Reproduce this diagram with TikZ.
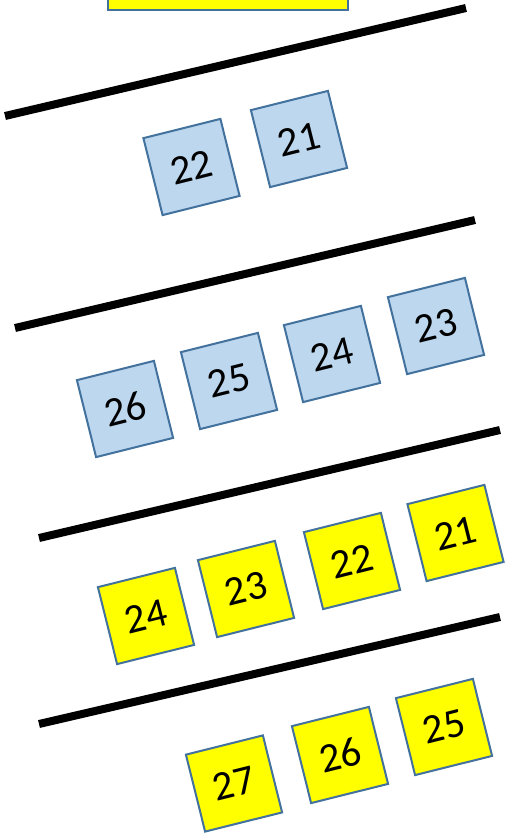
\documentclass[tikz,border=0pt]{standalone}
\usepackage{fontspec}
\setmainfont{Carlito}
\usepackage{xcolor}
\usepackage{tikz}
\usetikzlibrary{positioning}
\definecolor{edgeblue}{RGB}{65, 113, 156}
\definecolor{paleblue}{RGB}{189, 215, 238}
\definecolor{brightyellow}{RGB}{255, 255, 0}
\tikzstyle{tile} = [rectangle, draw=edgeblue, line width=1.5pt, minimum size=59.5pt, inner sep=0pt, rotate=14, text centered, font=\fontsize{31}{31}\selectfont]
\tikzstyle{bluetile} = [tile, fill=paleblue]
\tikzstyle{yellowtile} = [tile, fill=brightyellow]
\tikzstyle{divider} = [line width=6pt, black]

\begin{document}
\begin{tikzpicture}[x=0.75pt, y=-0.75pt]
    \useasboundingbox (0,0) rectangle (505,833);
    \clip (0,0) rectangle (505,833);

    % Top box, cut by the page edge
    \node[draw=edgeblue, line width=1.5pt, fill=brightyellow, minimum width=180pt, minimum height=45pt] (topbox) at (228,-20) {};

    % Dividers
    \draw[divider] (5,116) -- (466,8);
    \draw[divider] (15,328) -- (475,220);
    \draw[divider] (39,538) -- (500,430);
    \draw[divider] (39,724) -- (500,617);

    % First row
    \node[bluetile] (blueA22) at (191.5,167) {22};
    \node[bluetile] (blueA21) at (299,139) {21};

    % Second row
    \node[bluetile] (blueB26) at (125,409) {26};
    \node[bluetile] (blueB25) at (229,381) {25};
    \node[bluetile] (blueB24) at (332,354) {24};
    \node[bluetile] (blueB23) at (436,326) {23};

    % Third row
    \node[yellowtile] (yellowA24) at (146,616) {24};
    \node[yellowtile] (yellowA23) at (246,589) {23};
    \node[yellowtile] (yellowA22) at (352,561) {22};
    \node[yellowtile] (yellowA21) at (455.5,533) {21};

    % Fourth row
    \node[yellowtile] (yellowB27) at (234,783.5) {27};
    \node[yellowtile] (yellowB26) at (340,755) {26};
    \node[yellowtile] (yellowB25) at (444,727) {25};
\end{tikzpicture}
\end{document}
